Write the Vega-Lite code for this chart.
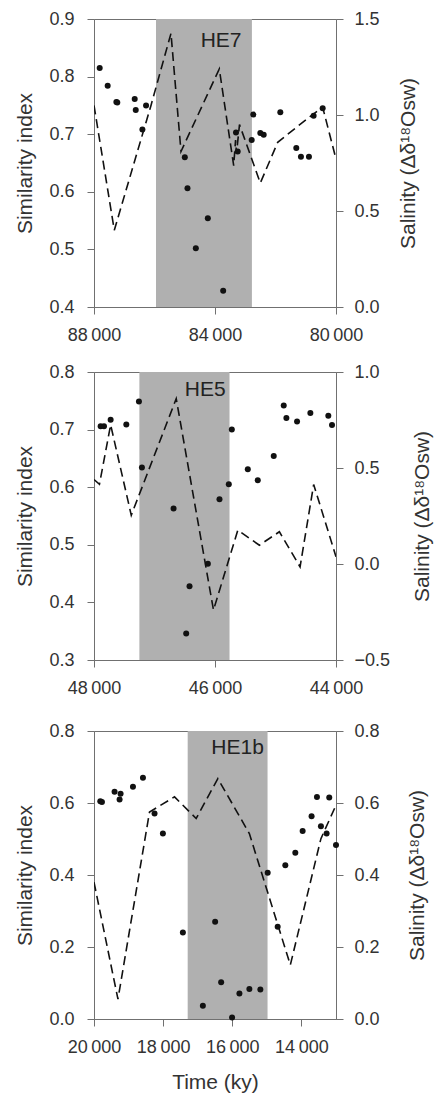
{
  "$schema": "https://vega.github.io/schema/vega-lite/v6.json",
  "padding": {"left": 14, "top": 9, "right": 5, "bottom": 5},
  "config": {
    "font": "Liberation Sans",
    "view": {"stroke": "#707070", "strokeWidth": 1},
    "axis": {
      "domainColor": "#707070", "tickColor": "#707070", "tickSize": 7,
      "labelFontSize": 18, "labelColor": "#333333", "labelFont": "Liberation Sans", "labelOverlap": false, "labelFlush": false,
      "titleFontSize": 21, "titleFontWeight": "normal", "titleColor": "#333333", "titleFont": "Liberation Sans",
      "titleLimit": 400,
      "grid": false
    }
  },
  "datasets": {
    "b1": [{"t": 85950, "t2": 82780, "label": "HE7"}],
    "p1": [
      {"t": 87812, "si": 0.815}, {"t": 87548, "si": 0.784}, {"t": 87261, "si": 0.756}, {"t": 87230, "si": 0.755},
      {"t": 86654, "si": 0.761}, {"t": 86620, "si": 0.742}, {"t": 86400, "si": 0.708}, {"t": 86279, "si": 0.750},
      {"t": 84998, "si": 0.660}, {"t": 84910, "si": 0.606}, {"t": 84634, "si": 0.502}, {"t": 84237, "si": 0.554},
      {"t": 83730, "si": 0.428}, {"t": 83306, "si": 0.703}, {"t": 83250, "si": 0.670}, {"t": 82787, "si": 0.690},
      {"t": 82734, "si": 0.734}, {"t": 82502, "si": 0.702}, {"t": 82390, "si": 0.699}, {"t": 81841, "si": 0.738},
      {"t": 81313, "si": 0.676}, {"t": 81159, "si": 0.661}, {"t": 80894, "si": 0.661}, {"t": 80740, "si": 0.732},
      {"t": 80441, "si": 0.745}
    ],
    "s1": [
      {"t": 88000, "sal": 1.05}, {"t": 87329, "sal": 0.40}, {"t": 86116, "sal": 1.05}, {"t": 85455, "sal": 1.425},
      {"t": 85124, "sal": 0.81}, {"t": 83858, "sal": 1.24}, {"t": 83382, "sal": 0.736}, {"t": 83320, "sal": 0.87},
      {"t": 83290, "sal": 0.80}, {"t": 83190, "sal": 0.95}, {"t": 82502, "sal": 0.646}, {"t": 81927, "sal": 0.858},
      {"t": 80826, "sal": 0.996}, {"t": 80440, "sal": 1.04}, {"t": 80000, "sal": 0.771}
    ],
    "b2": [{"t": 47250, "t2": 45760, "label": "HE5"}],
    "p2": [
      {"t": 47890, "si": 0.706}, {"t": 47835, "si": 0.706}, {"t": 47725, "si": 0.717}, {"t": 47466, "si": 0.709},
      {"t": 47257, "si": 0.749}, {"t": 47208, "si": 0.634}, {"t": 46685, "si": 0.563}, {"t": 46476, "si": 0.346},
      {"t": 46421, "si": 0.428}, {"t": 46118, "si": 0.467}, {"t": 45926, "si": 0.579}, {"t": 45772, "si": 0.605},
      {"t": 45722, "si": 0.700}, {"t": 45458, "si": 0.631}, {"t": 45293, "si": 0.612}, {"t": 45029, "si": 0.654},
      {"t": 44864, "si": 0.742}, {"t": 44820, "si": 0.720}, {"t": 44644, "si": 0.714}, {"t": 44424, "si": 0.729},
      {"t": 44127, "si": 0.724}, {"t": 44066, "si": 0.708}
    ],
    "s2": [
      {"t": 48000, "sal": 0.44}, {"t": 47910, "sal": 0.415}, {"t": 47725, "sal": 0.725}, {"t": 47384, "sal": 0.254},
      {"t": 46641, "sal": 0.861}, {"t": 46025, "sal": -0.240}, {"t": 45623, "sal": 0.176}, {"t": 45266, "sal": 0.098},
      {"t": 44936, "sal": 0.168}, {"t": 44594, "sal": -0.015}, {"t": 44369, "sal": 0.414}, {"t": 44000, "sal": 0.038}
    ],
    "b3": [{"t": 17290, "t2": 14980, "label": "HE1b"}],
    "p3": [
      {"t": 19818, "si": 0.605}, {"t": 19770, "si": 0.603}, {"t": 19405, "si": 0.631}, {"t": 19231, "si": 0.626},
      {"t": 19260, "si": 0.610}, {"t": 18873, "si": 0.645}, {"t": 18584, "si": 0.670}, {"t": 18249, "si": 0.571},
      {"t": 18007, "si": 0.515}, {"t": 17429, "si": 0.2405}, {"t": 16851, "si": 0.037}, {"t": 16496, "si": 0.270},
      {"t": 16322, "si": 0.102}, {"t": 16006, "si": 0.004}, {"t": 15794, "si": 0.071}, {"t": 15506, "si": 0.083},
      {"t": 15188, "si": 0.082}, {"t": 14976, "si": 0.406}, {"t": 14687, "si": 0.256}, {"t": 14466, "si": 0.427},
      {"t": 14177, "si": 0.4615}, {"t": 13965, "si": 0.522}, {"t": 13706, "si": 0.563}, {"t": 13551, "si": 0.617},
      {"t": 13436, "si": 0.5355}, {"t": 13272, "si": 0.515}, {"t": 13195, "si": 0.615}, {"t": 13000, "si": 0.483}
    ],
    "s3": [
      {"t": 20000, "sal": 0.38}, {"t": 19307, "sal": 0.055}, {"t": 18394, "sal": 0.575}, {"t": 17671, "sal": 0.617},
      {"t": 17045, "sal": 0.557}, {"t": 16418, "sal": 0.668}, {"t": 15506, "sal": 0.515}, {"t": 14321, "sal": 0.150},
      {"t": 13436, "sal": 0.501}, {"t": 13000, "sal": 0.594}
    ]
  },
  "vconcat": [
    {
      "width": 242, "height": 288,
      "encoding": {
        "x": {"field": "t", "type": "quantitative",
          "scale": {"domain": [80000, 88000], "reverse": true, "nice": false, "zero": false},
          "axis": {"values": [88000, 84000, 80000], "labelExpr": "replace(format(datum.value, ','), ',', '\u2009')", "title": null, "labelPadding": 12}}
      },
      "layer": [
        {"data": {"name": "b1"}, "mark": {"type": "rect", "color": "#b0b0b0"},
          "encoding": {"x2": {"field": "t2"}}},
        {"data": {"name": "s1"}, "mark": {"type": "line", "color": "#111111", "strokeWidth": 1.6, "strokeDash": [9, 5], "clip": true},
          "encoding": {"y": {"field": "sal", "type": "quantitative",
            "scale": {"domain": [0, 1.5], "nice": false, "zero": false},
            "axis": {"orient": "right", "values": [0, 0.5, 1.0, 1.5], "format": ".1f", "labelPadding": 11,
              "title": "Salinity (Δδ¹⁸Osw)", "titleAngle": 270, "titleBaseline": "top", "titlePadding": 18}}}},
        {"data": {"name": "p1"}, "mark": {"type": "circle", "size": 36, "color": "#111111", "opacity": 1},
          "encoding": {"y": {"field": "si", "type": "quantitative",
            "scale": {"domain": [0.4, 0.9], "nice": false, "zero": false},
            "axis": {"orient": "left", "values": [0.4, 0.5, 0.6, 0.7, 0.8, 0.9], "format": ".1f", "labelPadding": 13,
              "title": "Similarity index", "titlePadding": 13}}}},
        {"data": {"name": "b1"}, "mark": {"type": "text", "fontSize": 21, "color": "#222222", "align": "center", "baseline": "alphabetic"},
          "encoding": {"text": {"field": "label"},
            "x": {"datum": 83800, "type": "quantitative"},
            "y": {"datum": 0.851, "type": "quantitative", "scale": {"domain": [0.4, 0.9], "nice": false, "zero": false}, "axis": null}}}
      ],
      "resolve": {"scale": {"y": "independent"}}
    },
    {
      "spacing": 71,
      "bounds": "flush",
      "vconcat": [
        {
          "width": 242, "height": 288,
          "encoding": {
            "x": {"field": "t", "type": "quantitative",
              "scale": {"domain": [44000, 48000], "reverse": true, "nice": false, "zero": false},
              "axis": {"values": [48000, 46000, 44000], "labelExpr": "replace(format(datum.value, ','), ',', '\u2009')", "title": null, "labelPadding": 12}}
          },
          "layer": [
            {"data": {"name": "b2"}, "mark": {"type": "rect", "color": "#b0b0b0"},
              "encoding": {"x2": {"field": "t2"}}},
            {"data": {"name": "s2"}, "mark": {"type": "line", "color": "#111111", "strokeWidth": 1.6, "strokeDash": [9, 5], "clip": true},
              "encoding": {"y": {"field": "sal", "type": "quantitative",
                "scale": {"domain": [-0.5, 1.0], "nice": false, "zero": false},
                "axis": {"orient": "right", "values": [-0.5, 0, 0.5, 1.0], "format": ".1f", "labelPadding": 11,
                  "title": "Salinity (Δδ¹⁸Osw)", "titleAngle": 270, "titleBaseline": "top", "titlePadding": 22}}}},
            {"data": {"name": "p2"}, "mark": {"type": "circle", "size": 36, "color": "#111111", "opacity": 1},
              "encoding": {"y": {"field": "si", "type": "quantitative",
                "scale": {"domain": [0.3, 0.8], "nice": false, "zero": false},
                "axis": {"orient": "left", "values": [0.3, 0.4, 0.5, 0.6, 0.7, 0.8], "format": ".1f", "labelPadding": 13,
                  "title": "Similarity index", "titlePadding": 13}}}},
            {"data": {"name": "b2"}, "mark": {"type": "text", "fontSize": 21, "color": "#222222", "align": "center", "baseline": "alphabetic"},
              "encoding": {"text": {"field": "label"},
                "x": {"datum": 46163, "type": "quantitative"},
                "y": {"datum": 0.759, "type": "quantitative", "scale": {"domain": [0.3, 0.8], "nice": false, "zero": false}, "axis": null}}}
          ],
          "resolve": {"scale": {"y": "independent"}}
        },
        {
          "width": 242, "height": 288,
          "encoding": {
            "x": {"field": "t", "type": "quantitative",
              "scale": {"domain": [13000, 20000], "reverse": true, "nice": false, "zero": false},
              "axis": {"values": [20000, 18000, 16000, 14000], "labelExpr": "replace(format(datum.value, ','), ',', '\u2009')", "title": "Time (ky)", "labelPadding": 12, "titlePadding": 15}}
          },
          "layer": [
            {"data": {"name": "b3"}, "mark": {"type": "rect", "color": "#b0b0b0"},
              "encoding": {"x2": {"field": "t2"}}},
            {"data": {"name": "s3"}, "mark": {"type": "line", "color": "#111111", "strokeWidth": 1.6, "strokeDash": [9, 5], "clip": true},
              "encoding": {"y": {"field": "sal", "type": "quantitative",
                "scale": {"domain": [0, 0.8], "nice": false, "zero": false},
                "axis": {"orient": "right", "values": [0, 0.2, 0.4, 0.6, 0.8], "format": ".1f", "labelPadding": 11,
                  "title": "Salinity (Δδ¹⁸Osw)", "titleAngle": 270, "titleBaseline": "top", "titlePadding": 27}}}},
            {"data": {"name": "p3"}, "mark": {"type": "circle", "size": 36, "color": "#111111", "opacity": 1},
              "encoding": {"y": {"field": "si", "type": "quantitative",
                "scale": {"domain": [0, 0.8], "nice": false, "zero": false},
                "axis": {"orient": "left", "values": [0, 0.2, 0.4, 0.6, 0.8], "format": ".1f", "labelPadding": 13,
                  "title": "Similarity index", "titlePadding": 13}}}},
            {"data": {"name": "b3"}, "mark": {"type": "text", "fontSize": 21, "color": "#222222", "align": "center", "baseline": "alphabetic"},
              "encoding": {"text": {"field": "label"},
                "x": {"datum": 15846, "type": "quantitative"},
                "y": {"datum": 0.737, "type": "quantitative", "scale": {"domain": [0, 0.8], "nice": false, "zero": false}, "axis": null}}}
          ],
          "resolve": {"scale": {"y": "independent"}}
        }
      ]
    }
  ],
  "spacing": 65,
  "bounds": "flush"
}
